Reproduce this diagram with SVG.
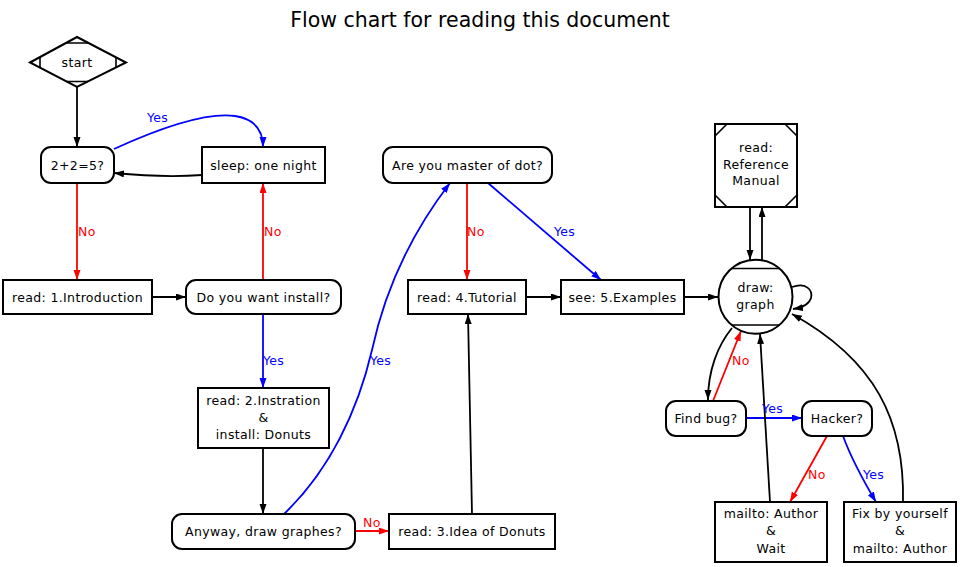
<svg xmlns="http://www.w3.org/2000/svg" width="960" height="567" viewBox="0 0 960 567">
<style>
text{font-family:"DejaVu Sans","Liberation Sans",sans-serif;font-size:12.5px;text-anchor:middle;fill:#000;letter-spacing:0.35px}
.title{font-size:20.5px;letter-spacing:0}
.n{fill:#fff;stroke:#000;stroke-width:2}
.d{fill:none;stroke:#000;stroke-width:1.6}
.e{fill:none;stroke-width:1.8}
.k{stroke:#000}
.r{stroke:#f00}
.b{stroke:#00f}
.lr{fill:#f00;text-anchor:start}
.lb{fill:#00f;text-anchor:start}
</style>
<defs>
<marker id="ak" markerUnits="userSpaceOnUse" markerWidth="10" markerHeight="8" refX="10" refY="3.5" orient="auto"><path d="M0,0 L10,3.5 L0,7 z" fill="#000"/></marker>
<marker id="ar" markerUnits="userSpaceOnUse" markerWidth="10" markerHeight="8" refX="10" refY="3.5" orient="auto"><path d="M0,0 L10,3.5 L0,7 z" fill="#f00"/></marker>
<marker id="ab" markerUnits="userSpaceOnUse" markerWidth="10" markerHeight="8" refX="10" refY="3.5" orient="auto"><path d="M0,0 L10,3.5 L0,7 z" fill="#00f"/></marker>
</defs>
<rect width="960" height="567" fill="#fff"/>
<text class="title" x="480" y="27">Flow chart for reading this document</text>

<g id="edges">
<path class="e k" d="M77,87 L77,147" marker-end="url(#ak)"/>
<path class="e b" d="M114,149 C160,128 205,112 235,116 C255,119 263,130 263,147" marker-end="url(#ab)"/>
<path class="e k" d="M202,175 C175,177 145,176 114,173" marker-end="url(#ak)"/>
<path class="e r" d="M77,183 L77,280" marker-end="url(#ar)"/>
<path class="e k" d="M152,297 L186,297" marker-end="url(#ak)"/>
<path class="e r" d="M263,280 L263,183" marker-end="url(#ar)"/>
<path class="e b" d="M263,314 L263,388" marker-end="url(#ab)"/>
<path class="e k" d="M263,448 L263,514" marker-end="url(#ak)"/>
<path class="e r" d="M355,531 L389,531" marker-end="url(#ar)"/>
<path class="e b" d="M284,514 C330,470 358,410 372,350 C385,290 410,235 450,183" marker-end="url(#ab)"/>
<path class="e k" d="M472,514 L468,314" marker-end="url(#ak)"/>
<path class="e r" d="M467,183 L467,280" marker-end="url(#ar)"/>
<path class="e b" d="M488,183 L601,280" marker-end="url(#ab)"/>
<path class="e k" d="M526,297 L561,297" marker-end="url(#ak)"/>
<path class="e k" d="M684,297 L718,297" marker-end="url(#ak)"/>
<path class="e k" d="M750,207 L750,260" marker-end="url(#ak)"/>
<path class="e k" d="M762,260 L762,207" marker-end="url(#ak)"/>
<path class="e k" d="M792,287 C806,282 813,290 811,298 C809,305 800,308 793,309" marker-end="url(#ak)"/>
<path class="e k" d="M903,503 C905,420 875,360 792,314" marker-end="url(#ak)"/>
<path class="e k" d="M732,328 C718,345 708,370 708,400" marker-end="url(#ak)"/>
<path class="e r" d="M713,401 L741,331" marker-end="url(#ar)"/>
<path class="e b" d="M746,418 L802,418" marker-end="url(#ab)"/>
<path class="e k" d="M770,502 L760,334" marker-end="url(#ak)"/>
<path class="e r" d="M827,436 L790,502" marker-end="url(#ar)"/>
<path class="e b" d="M843,436 C850,455 860,475 876,502" marker-end="url(#ab)"/>
<text class="lb" x="147" y="122">Yes</text>
<text class="lr" x="78" y="236">No</text>
<text class="lr" x="264" y="236">No</text>
<text class="lb" x="263" y="365">Yes</text>
<text class="lr" x="363" y="527">No</text>
<text class="lb" x="370" y="365">Yes</text>
<text class="lr" x="467" y="236">No</text>
<text class="lb" x="554" y="236">Yes</text>
<text class="lr" x="732" y="365">No</text>
<text class="lb" x="762" y="413">Yes</text>
<text class="lr" x="808" y="479">No</text>
<text class="lb" x="863" y="479">Yes</text>
</g>

<g id="start">
<path class="n" d="M30,62.5 L77,37 L126,62.5 L77,87 Z"/>
<path class="d" d="M66,43 L88,43 M66,81.5 L88,81.5 M40,57 L40,68 M116,57 L116,68"/>
<text x="77" y="67">start</text>
</g>
<g id="q225">
<rect class="n" x="41" y="147" width="73" height="36" rx="10"/>
<text x="77.5" y="169.5">2+2=5?</text>
</g>
<g id="sleep">
<rect class="n" x="202" y="147" width="123" height="36"/>
<text x="263.5" y="169.5">sleep: one night</text>
</g>
<g id="intro">
<rect class="n" x="3" y="280" width="149" height="34"/>
<text x="77.5" y="301.5">read: 1.Introduction</text>
</g>
<g id="install">
<rect class="n" x="186" y="280" width="155" height="34" rx="10"/>
<text x="263.5" y="301.5">Do you want install?</text>
</g>
<g id="instration">
<rect class="n" x="198" y="388" width="131" height="60"/>
<text x="263.5" y="405">read: 2.Instration</text>
<text x="263.5" y="422">&amp;</text>
<text x="263.5" y="438.5">install: Donuts</text>
</g>
<g id="anyway">
<rect class="n" x="172" y="514" width="183" height="35" rx="10"/>
<text x="263.5" y="536">Anyway, draw graphes?</text>
</g>
<g id="idea">
<rect class="n" x="389" y="514" width="166" height="35"/>
<text x="472" y="536">read: 3.Idea of Donuts</text>
</g>
<g id="master">
<rect class="n" x="383" y="147" width="169" height="36" rx="10"/>
<text x="467.5" y="169.5">Are you master of dot?</text>
</g>
<g id="tutorial">
<rect class="n" x="408" y="280" width="118" height="34"/>
<text x="467" y="301.5">read: 4.Tutorial</text>
</g>
<g id="examples">
<rect class="n" x="561" y="280" width="123" height="34"/>
<text x="622.5" y="301.5">see: 5.Examples</text>
</g>
<g id="reference">
<rect class="n" x="715" y="124" width="82" height="83"/>
<path class="d" d="M715,136 L727,124 M785,124 L797,136 M715,195 L727,207 M785,207 L797,195"/>
<text x="756" y="152">read:</text>
<text x="756" y="168.5">Reference</text>
<text x="756" y="185">Manual</text>
</g>
<g id="draw">
<circle class="n" cx="755.5" cy="296.7" r="37"/>
<path class="d" d="M731.5,268.5 L779.5,268.5 M731.5,325 L779.5,325"/>
<text x="755.5" y="292">draw:</text>
<text x="755.5" y="308.5">graph</text>
</g>
<g id="findbug">
<rect class="n" x="666" y="401" width="80" height="35" rx="10"/>
<text x="706" y="422.5">Find bug?</text>
</g>
<g id="hacker">
<rect class="n" x="802" y="401" width="70" height="35" rx="10"/>
<text x="837" y="422.5">Hacker?</text>
</g>
<g id="mailto">
<rect class="n" x="715" y="502" width="112" height="60"/>
<text x="771" y="517.5">mailto: Author</text>
<text x="771" y="535">&amp;</text>
<text x="771" y="552.5">Wait</text>
</g>
<g id="fix">
<rect class="n" x="844" y="502" width="112" height="60"/>
<text x="900" y="517.5">Fix by yourself</text>
<text x="900" y="535">&amp;</text>
<text x="900" y="552.5">mailto: Author</text>
</g>
</svg>
